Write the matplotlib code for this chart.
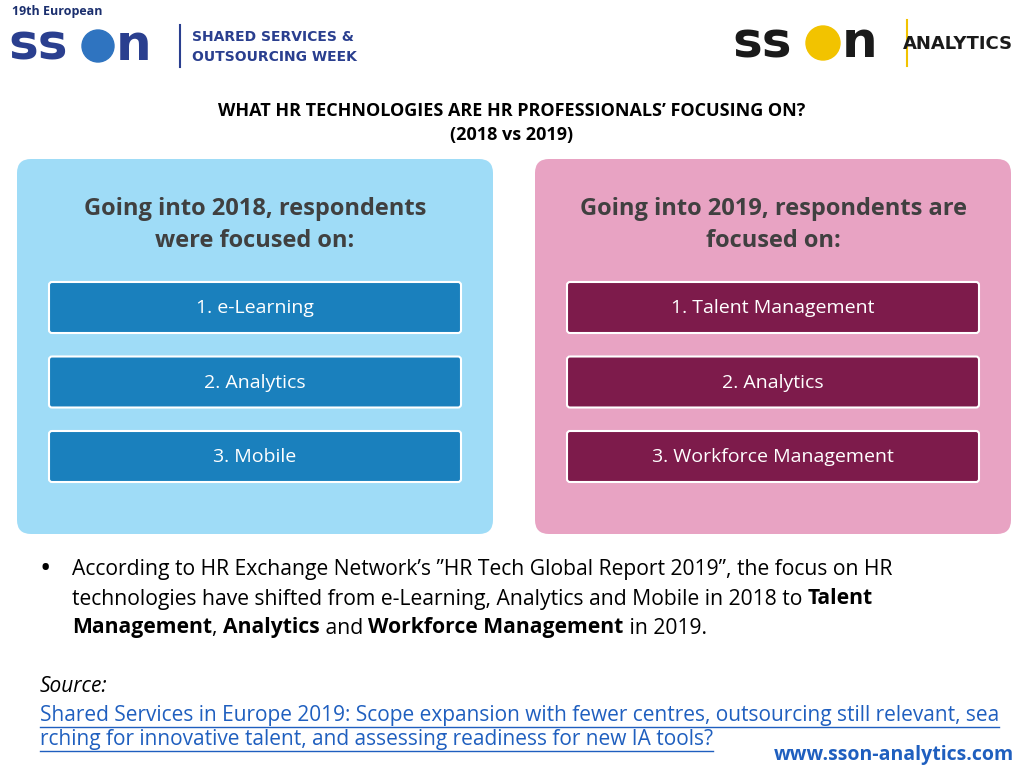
import matplotlib
matplotlib.use("Agg")
import matplotlib.pyplot as plt
from matplotlib.patches import FancyBboxPatch, Circle

title = "WHAT HR TECHNOLOGIES ARE HR PROFESSIONALS’ FOCUSING ON?"
subtitle = "(2018 vs 2019)"
headings = ["Going into 2018, respondents\nwere focused on:", "Going into 2019, respondents are\nfocused on:"]
items_2018 = ["1. e-Learning", "2. Analytics", "3. Mobile"]
items_2019 = ["1. Talent Management", "2. Analytics", "3. Workforce Management"]
bullet_lines = [
    [("According to HR Exchange Network’s ”HR Tech Global Report 2019”, the focus on HR", "normal")],
    [("technologies have shifted from e-Learning, Analytics and Mobile in 2018 to ", "normal"), ("Talent", "bold")],
    [("Management", "bold"), (", ", "normal"), ("Analytics", "bold"), (" and ", "normal"),
     ("Workforce Management", "bold"), (" in 2019.", "normal")],
]
link_lines = ["Shared Services in Europe 2019: Scope expansion with fewer centres, outsourcing still relevant, sea",
              "rching for innovative talent, and assessing readiness for new IA tools?"]

fig = plt.figure(figsize=(10.24, 7.68), dpi=100)
ax = fig.add_axes([0, 0, 1, 1])
ax.set_xlim(0, 1024); ax.set_ylim(768, 0); ax.axis("off")
F = "Open Sans"

# logos
ax.text(12, 12, "19th European", fontsize=9, fontweight="bold", color="#1b2f6e", va="center", family=F)
ax.text(8, 46, "ss", fontsize=36, fontweight="bold", color="#2a3f8f", va="center", family="DejaVu Sans")
ax.add_patch(Circle((98, 46), 16, color="#2f74c0"))
ax.text(116, 46, "n", fontsize=36, fontweight="bold", color="#2a3f8f", va="center", family="DejaVu Sans")
ax.plot([180, 180], [25, 67], color="#2a3f8f", lw=1.5)
ax.text(192, 37, "SHARED SERVICES &", fontsize=10, fontweight="bold", color="#2a3f8f", va="center", family="DejaVu Sans")
ax.text(192, 57, "OUTSOURCING WEEK", fontsize=10, fontweight="bold", color="#2a3f8f", va="center", family="DejaVu Sans")
ax.text(732, 43, "ss", fontsize=36, fontweight="bold", color="#1a1a1a", va="center", family="DejaVu Sans")
ax.add_patch(Circle((823, 43), 17, color="#f2c300"))
ax.text(842, 43, "n", fontsize=36, fontweight="bold", color="#1a1a1a", va="center", family="DejaVu Sans")
ax.plot([907, 907], [20, 66], color="#f2c300", lw=1.5)
ax.text(1013, 44, "ANALYTICS", fontsize=13, fontweight="bold", color="#1a1a1a", va="center", ha="right", family="DejaVu Sans")

ax.text(512, 111, title, fontsize=13, fontweight="bold", ha="center", va="center", family=F)
ax.text(512, 135, subtitle, fontsize=13, fontweight="bold", ha="center", va="center", family=F)

panels = [(17, "#9fdcf7", "#1a80bd", items_2018), (535, "#e8a3c3", "#7d1b4b", items_2019)]
for (x0, pc, bc, items), head in zip(panels, headings):
    ax.add_patch(FancyBboxPatch((x0, 159), 476, 375, boxstyle="round,pad=0,rounding_size=14", fc=pc, ec="none"))
    ax.text(x0 + 238, 225, head, fontsize=17, fontweight="bold", color="#404040", ha="center", va="center",
            family=F, linespacing=1.45)
    for i, it in enumerate(items):
        y = 282 + i * 74.5
        ax.add_patch(FancyBboxPatch((x0 + 32, y), 412, 51, boxstyle="round,pad=0,rounding_size=3",
                                    fc=bc, ec="white", lw=1.5))
        ax.text(x0 + 238, y + 26, it, fontsize=14, color="white", ha="center", va="center", family=F)

fig.canvas.draw()
r = fig.canvas.get_renderer()
ax.text(40, 570, "•", fontsize=22, va="center", family=F)
for j, line in enumerate(bullet_lines):
    x = 72
    y = 570 + j * 29
    for s, w in line:
        t = ax.text(x, y, s, fontsize=15.2, fontweight=w, va="center", family=F)
        bb = t.get_window_extent(r)
        x += bb.width
ax.text(40, 686, "Source:", fontsize=15, style="italic", va="center", family=F)
for j, s in enumerate(link_lines):
    t = ax.text(40, 716 + j * 24, s, fontsize=15, color="#1f5fbf", va="center", family=F)
    bb = t.get_window_extent(r)
    ax.plot([40, 40 + bb.width], [727 + j * 24] * 2, color="#1f5fbf", lw=1)
ax.text(1014, 765, "www.sson-analytics.com", fontsize=14, fontweight="bold", color="#1f5fbf", ha="right", va="bottom", family=F)

fig.savefig("out.png", dpi=100)
